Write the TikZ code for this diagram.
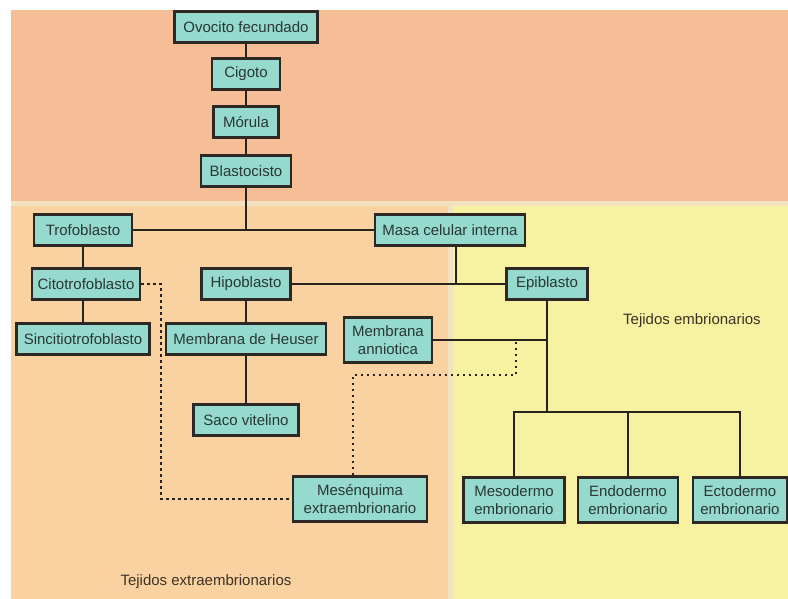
\documentclass[tikz,border=0pt]{standalone}
\usepackage{fontspec}
\setmainfont{Liberation Sans}
\definecolor{topzone}{RGB}{246,190,150}
\definecolor{leftzone}{RGB}{250,210,162}
\definecolor{rightzone}{RGB}{246,242,162}
\definecolor{stripcol}{RGB}{242,226,192}
\definecolor{boxfill}{RGB}{150,217,205}
\definecolor{boxline}{RGB}{45,40,35}
\definecolor{boxtext}{RGB}{40,55,55}
\definecolor{linecol}{RGB}{40,35,30}
\definecolor{labeltext}{RGB}{60,50,35}
\begin{document}
\begin{tikzpicture}[
        x=1pt, y=-1pt,
        box/.style={draw=boxline, fill=boxfill, line width=2.6pt, inner sep=1pt,
            minimum height=31pt, align=center, text=boxtext,
            font=\fontsize{15}{18}\selectfont},
        tallbox/.style={box, minimum height=45pt},
        link/.style={draw=linecol, line width=2pt},
        mainlink/.style={link, line width=2.8pt},
        dots/.style={draw=linecol, line width=2.2pt, dash pattern=on 2.5pt off 3.5pt},
        zone/.style={text=labeltext, font=\fontsize{15}{18}\selectfont},
    ]
    \useasboundingbox (0,0) rectangle (788,599);
    % zones
    \fill[white] (0,0) rectangle (788,599);
    \fill[topzone] (11,10) rectangle (788,201);
    \fill[stripcol] (11,201) rectangle (788,206);
    \fill[leftzone] (11,206) rectangle (448,599);
    \fill[stripcol] (448,206) rectangle (453,599);
    \fill[rightzone] (453,206) rectangle (788,599);

    \node[box, minimum width=143pt](ovocito) at (246,27){Ovocito fecundado};
    \node[box, minimum width=68pt](cigoto) at (246,74){Cigoto};
    \node[box, minimum width=65pt](morula) at (246,122){Mórula};
    \node[box, minimum width=90pt](blasto) at (246,171){Blastocisto};
    \node[box, minimum width=98pt](trofo) at (83,230){Trofoblasto};
    \node[box, minimum width=150pt](masa) at (450,230){Masa celular interna};
    \node[box, minimum width=108pt](cito) at (86,284){Citotrofoblasto};
    \node[box, minimum width=89pt](hipo) at (246,284){Hipoblasto};
    \node[box, minimum width=81pt](epi) at (547,284){Epiblasto};
    \node[box, minimum width=133pt](sincitio) at (83,339){Sincitiotrofoblasto};
    \node[box, minimum width=160pt](heuser) at (246,339){Membrana de Heuser};
    \node[tallbox, minimum width=88pt](amnio) at (388,340){Membrana\\anniotica};
    \node[box, minimum width=105pt](saco) at (246,420){Saco vitelino};
    \node[tallbox, minimum width=134pt](mesen) at (360,499){Mesénquima\\extraembrionario};
    \node[tallbox, minimum width=101pt](meso) at (514,500){Mesodermo\\embrionario};
    \node[tallbox, minimum width=100pt](endo) at (628,500){Endodermo\\embrionario};
    \node[tallbox, minimum width=94pt](ecto) at (740,500){Ectodermo\\embrionario};

    \node[zone](embr) at (692,321){Tejidos embrionarios};
    \node[zone](extra) at (206,582){Tejidos extraembrionarios};

    \coordinate (mjoin) at (456,284);
    \coordinate (fork) at (547,412);
    \coordinate (mtop) at (353,375);
    \coordinate (dotend) at (516,340);

    \draw[link] (ovocito) -- (cigoto);
    \draw[link] (cigoto) -- (morula);
    \draw[link] (morula) -- (blasto);
    \draw[mainlink] (blasto) -- (blasto |- trofo);
    \draw[link] (trofo) -- (masa);
    \draw[link] (masa.south -| mjoin) -- (mjoin);
    \draw[link] (hipo) -- (epi);
    \draw[link] (trofo.south) -- (trofo.south |- cito.north);
    \draw[link] (trofo.south |- cito.south) -- (sincitio.north);
    \draw[link] (hipo) -- (heuser);
    \draw[mainlink] (heuser) -- (saco);
    \draw[mainlink] (epi) -- (fork);
    \draw[link] (amnio) -- (amnio -| epi);
    \draw[link] (meso.north) |- (fork) -| (ecto.north);
    \draw[link] (endo) -- (endo |- fork);
    % dotted links
    \draw[dots] (cito.east) -- ++(20,0) |- (mesen.west);
    \draw[dots] (mesen.north -| mtop) -- (mtop) -| (amnio -| dotend);

    \end{tikzpicture}
\end{document}
